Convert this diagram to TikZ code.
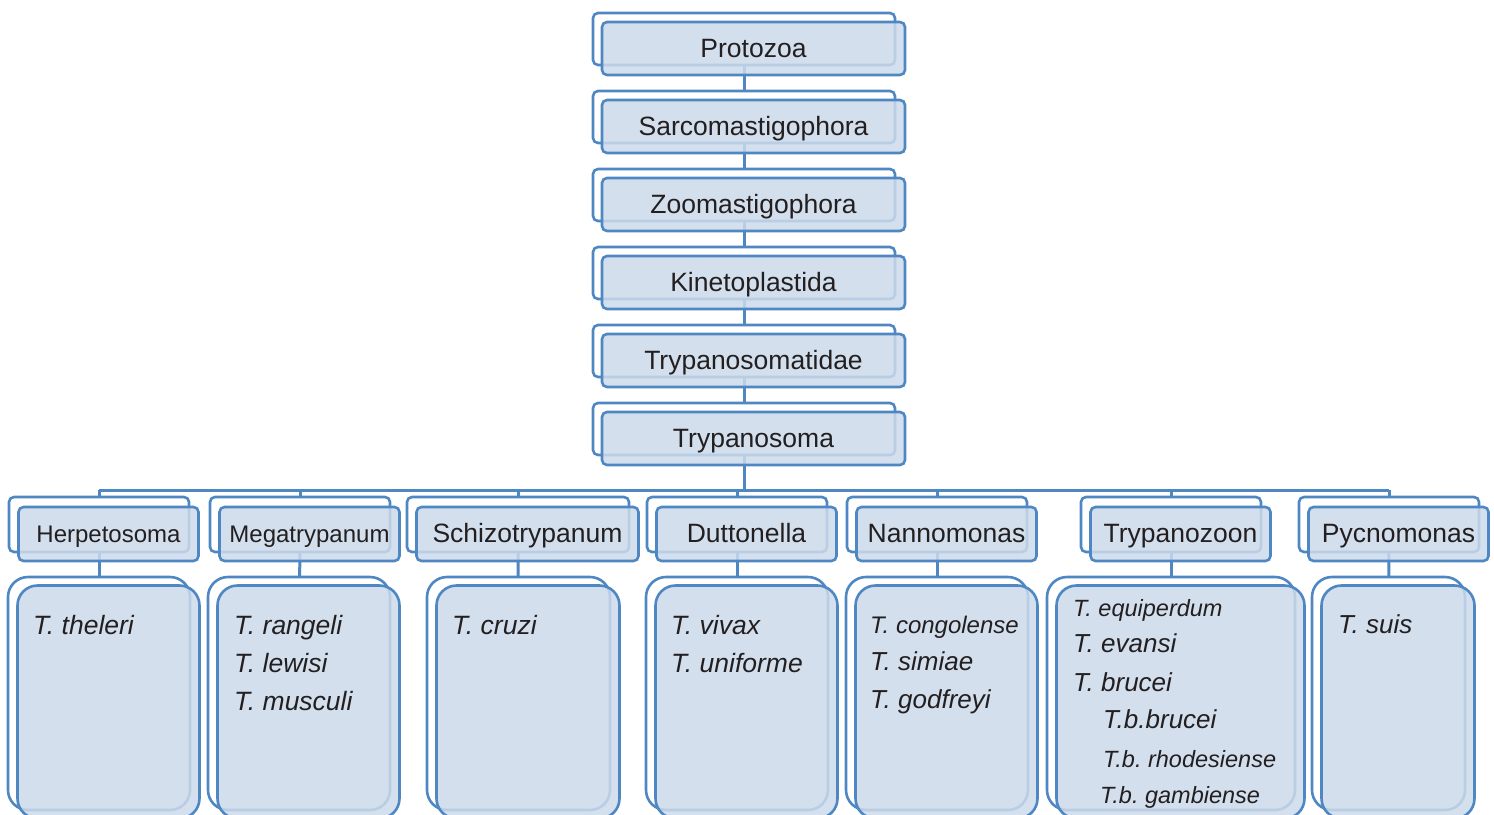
\documentclass[tikz,border=0pt]{standalone}
\usepackage{fontspec}
\setmainfont{Liberation Sans}
\pgfdeclarelayer{bg}
\pgfsetlayers{bg,main}
\definecolor{bdr}{RGB}{79,135,195}
\definecolor{fil}{RGB}{204,218,235}
\definecolor{txt}{RGB}{35,31,32}
\newcommand{\fsz}[1]{\fontsize{#1}{#1}\selectfont}
\frenchspacing
\tikzset{
  backbox/.style={draw=bdr, fill=white, line width=2.6pt, rounded corners=5pt, inner sep=0pt},
  frontbox/.style={draw=bdr, fill=fil, fill opacity=0.85, text opacity=1, line width=2.6pt,
     rounded corners=5pt, inner sep=0pt, text=txt, text height=17pt, text depth=0pt},
  spback/.style={backbox, rounded corners=20pt, minimum height=233pt},
  spfront/.style={frontbox, rounded corners=20pt, minimum height=233pt},
  sptext/.style={anchor=base west, inner sep=0pt, text=txt},
  conn/.style={draw=bdr, line width=3pt}
}
\begin{document}
\begin{tikzpicture}[x=1pt,y=-1pt]
\useasboundingbox (0,0) rectangle (1494,814);
% top chain
\foreach \i/\t in {1/Protozoa,2/Sarcomastigophora,3/Zoomastigophora,4/Kinetoplastida,5/Trypanosomatidae,6/Trypanosoma}{
  \node[backbox, minimum width=302pt, minimum height=52pt] (tb\i) at (744,{39+(\i-1)*78}) {};
  \node[frontbox, minimum width=303pt, minimum height=53pt, font=\fsz{26.5}] (tf\i) at (753.5,{48.5+(\i-1)*78}) {\t};
}
% genus boxes
\foreach \n/\x/\w/\s/\t in {1/99/180/24/Herpetosoma,2/300/180/24/Megatrypanum,3/518/222/26.5/Schizotrypanum,4/737/180/26.5/Duttonella,5/937/180/26.5/Nannomonas,6/1171/180/26.5/Trypanozoon,7/1389/180/26.5/Pycnomonas}{
  \node[backbox, minimum width=\w pt, minimum height=55pt] (gb\n) at (\x,524.5) {};
  \node[frontbox, minimum width=\w pt, minimum height=54pt, font=\fsz{\s}] (gf\n) at ({\x+9.5},534) {\t};
}
% species boxes
\foreach \n/\x/\w in {1/99/182,2/299/182,3/518.5/183,4/737/182,5/937/182,6/1171/248,7/1388.5/153}{
  \node[spback, minimum width=\w pt] (sb\n) at (\x,693.5) {};
  \node[spfront, minimum width=\w pt] (sf\n) at ({\x+9.5},702) {};
}
% connectors
\coordinate (busL) at (99,490);
\coordinate (busR) at (1389,490);
\begin{pgfonlayer}{bg}
  \foreach \i [evaluate=\i as \j using int(\i+1)] in {1,...,5}{
    \draw[conn] (tb\i.center) -- (tb\j.center);
  }
  \draw[conn] (tb6.center) -- (tb6.center |- busL);
  \draw[conn] (busL) -- (busR);
  \foreach \n in {1,...,7}{
    \draw[conn] (gb\n.center |- busL) -- (gb\n.center);
    \draw[conn] (gb\n.center) -- (sb\n.center);
  }
\end{pgfonlayer}
% species texts
\begin{scope}[every node/.style={sptext}]
  \node[font=\fsz{26.5}\itshape] (x1a) at (33,634) {T. theleri};
  \node[font=\fsz{26.5}\itshape] (x2a) at (234,634) {T. rangeli};
  \node[font=\fsz{26.5}\itshape] (x2b) at (234,672) {T. lewisi};
  \node[font=\fsz{26.5}\itshape] (x2c) at (234,710) {T. musculi};
  \node[font=\fsz{26.5}\itshape] (x3a) at (452,634) {T. cruzi};
  \node[font=\fsz{26.5}\itshape] (x4a) at (671,634) {T. vivax};
  \node[font=\fsz{26.5}\itshape] (x4b) at (671,672) {T. uniforme};
  \node[font=\fsz{24}\itshape] (x5a) at (870,633) {T. congolense};
  \node[font=\fsz{26}\itshape] (x5b) at (870,670) {T. simiae};
  \node[font=\fsz{26}\itshape] (x5c) at (870,708) {T. godfreyi};
  \node[font=\fsz{23.5}\itshape] (x6a) at (1073,616) {T. equiperdum};
  \node[font=\fsz{26}\itshape] (x6b) at (1073,652) {T. evansi};
  \node[font=\fsz{26}\itshape] (x6c) at (1073,691) {T. brucei};
  \node[font=\fsz{26}\itshape] (x6d) at (1103,728) {T.b.brucei};
  \node[font=\fsz{23.5}\itshape] (x6e) at (1103,767) {T.b. rhodesiense};
  \node[font=\fsz{23.5}\itshape] (x6f) at (1100,803) {T.b. gambiense};
  \node[font=\fsz{26}\itshape] (x7a) at (1338,633) {T. suis};
\end{scope}
\end{tikzpicture}
\end{document}
